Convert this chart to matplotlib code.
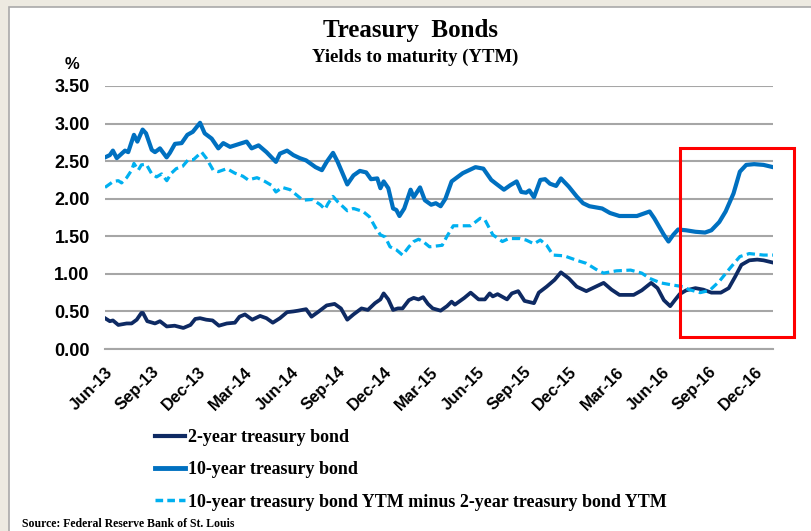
import numpy as np
import matplotlib
matplotlib.use("Agg")
import matplotlib.pyplot as plt
from matplotlib.patches import Rectangle
from matplotlib.lines import Line2D

# months counted from Jun-2013
tick_labels = ["Jun-13", "Sep-13", "Dec-13", "Mar-14", "Jun-14", "Sep-14", "Dec-14",
               "Mar-15", "Jun-15", "Sep-15", "Dec-15", "Mar-16", "Jun-16", "Sep-16", "Dec-16"]

ten_x = [0, 0.31, 0.51, 0.76, 1.29, 1.50, 1.87, 2.09, 2.43, 2.65, 3.02, 3.23, 3.55, 3.98, 4.19,
         4.52, 4.95, 5.32, 5.67, 6.14, 6.44, 6.89, 7.32, 7.64, 8.08, 8.69, 9.15, 9.47, 9.92, 10.43,
         11.04, 11.30, 11.76, 12.17, 12.58, 12.99, 13.60, 14.01, 14.32, 14.73, 15.03, 15.65, 16.05,
         16.46, 16.87, 17.18, 17.59, 17.79, 18.00, 18.30, 18.61, 18.82, 19.02, 19.33, 19.74, 19.94,
         20.35, 20.66, 21.07, 21.37, 21.68, 21.99, 22.39, 23.11, 23.93, 24.44, 24.95, 25.26, 25.77,
         26.18, 26.59, 26.89, 27.20, 27.41, 27.71, 28.12, 28.43, 28.74, 29.14, 29.45, 29.96, 30.47,
         30.88, 31.29, 32.11, 32.62, 33.23, 34.36, 34.77, 35.18, 35.48, 36.10, 36.40, 36.71, 37.02,
         37.53, 38.14, 38.76, 39.17, 39.68, 40.09, 40.60, 41.01, 41.42, 41.93, 42.54, 43.15]
ten_y = [2.55, 2.58, 2.64, 2.54, 2.64, 2.62, 2.85, 2.76, 2.92, 2.87, 2.65, 2.62, 2.67, 2.55, 2.61,
         2.73, 2.74, 2.85, 2.89, 3.01, 2.87, 2.80, 2.67, 2.74, 2.69, 2.73, 2.76, 2.67, 2.71, 2.62,
         2.49, 2.60, 2.64, 2.58, 2.54, 2.51, 2.42, 2.38, 2.49, 2.61, 2.49, 2.19, 2.31,
         2.37, 2.35, 2.26, 2.27, 2.14, 2.23, 2.14, 1.87, 1.85, 1.77, 1.87, 2.12, 2.02,
         2.15, 1.98, 1.92, 1.94, 1.90, 2.00, 2.23, 2.34, 2.42, 2.40, 2.25, 2.20, 2.12,
         2.18, 2.23, 2.09, 2.08, 2.11, 2.02, 2.25, 2.26, 2.20, 2.17, 2.27, 2.16, 2.03,
         1.94, 1.90, 1.87, 1.81, 1.77, 1.77, 1.80, 1.83, 1.74, 1.52, 1.43, 1.52, 1.59,
         1.58, 1.56, 1.55, 1.58, 1.69, 1.83, 2.07, 2.36, 2.45, 2.46, 2.45, 2.42]

two_x = [0, 0.31, 0.51, 0.86, 1.40, 1.72, 2.05, 2.35, 2.45, 2.73, 3.23, 3.55, 3.99, 4.50, 5.06,
         5.52, 5.83, 6.14, 6.54, 6.95, 7.36, 7.87, 8.39, 8.69, 9.04, 9.51, 10.02, 10.43, 10.84,
         11.30, 11.76, 12.17, 12.48, 12.99, 13.34, 13.81, 14.32, 14.83, 15.24, 15.65, 16.05, 16.57,
         16.98, 17.44, 17.79, 18.00, 18.30, 18.61, 18.92, 19.22, 19.63, 19.94, 20.25, 20.55, 20.86,
         21.17, 21.68, 22.09, 22.39, 22.60, 23.21, 23.62, 24.13, 24.54, 24.85, 25.05, 25.36, 25.97,
         26.28, 26.69, 27.10, 27.71, 28.02, 28.53, 29.04, 29.45, 29.96, 30.47, 31.09, 31.60, 32.21,
         32.72, 33.23, 34.15, 34.67, 35.28, 35.69, 36.10, 36.51, 36.81, 37.12, 37.53, 38.14, 38.65,
         39.17, 39.78, 40.29, 40.70, 41.11, 41.62, 42.13, 42.54, 43.15]
two_y = [0.41, 0.37, 0.38, 0.32, 0.34, 0.34, 0.39, 0.48, 0.48, 0.37, 0.34, 0.37, 0.30, 0.31, 0.28,
         0.32, 0.40, 0.41, 0.39, 0.38, 0.31, 0.34, 0.35, 0.43, 0.46, 0.39, 0.44, 0.41, 0.35,
         0.41, 0.49, 0.50, 0.51, 0.53, 0.43, 0.50, 0.58, 0.60, 0.54, 0.39, 0.46, 0.54,
         0.52, 0.61, 0.66, 0.74, 0.66, 0.52, 0.54, 0.54, 0.65, 0.68, 0.66, 0.69, 0.60,
         0.54, 0.51, 0.57, 0.63, 0.59, 0.68, 0.75, 0.66, 0.66, 0.74, 0.70, 0.73, 0.66,
         0.74, 0.77, 0.64, 0.61, 0.75, 0.83, 0.92, 1.02, 0.94, 0.83, 0.77, 0.82, 0.88,
         0.79, 0.72, 0.72, 0.78, 0.88, 0.81, 0.65, 0.57, 0.65, 0.73, 0.78, 0.81, 0.79,
         0.75, 0.75, 0.81, 0.96, 1.12, 1.18, 1.19, 1.18, 1.15]

spread_x = [0, 0.54, 0.86, 1.07, 1.40, 1.72, 1.87, 2.15, 2.35, 2.66, 3.02, 3.33, 3.66, 3.99, 4.29,
            4.60, 5.01, 5.38, 5.71, 6.24, 6.54, 6.99, 7.32, 7.87, 8.39, 8.90, 9.25, 9.82, 10.33,
            10.74, 11.04, 11.45, 11.96, 12.37, 12.78, 13.40, 13.91, 14.21, 14.42, 14.73, 15.03,
            15.65, 16.05, 16.67, 17.08, 17.49, 17.79, 18.10, 18.41, 18.82, 19.22, 19.63, 19.94,
            20.25, 20.55, 20.96, 21.78, 22.09, 22.50, 23.62, 24.24, 24.54, 25.05, 25.67, 26.08,
            26.79, 27.20, 27.71, 28.12, 28.53, 28.94, 29.66, 30.47, 31.09, 31.80, 32.21, 33.03,
            33.95, 34.67, 35.18, 35.89, 36.71, 37.32, 37.73, 38.45, 39.06, 39.68, 40.39, 41.01,
            41.62, 42.54, 43.15]
spread_y = [2.15, 2.23, 2.24, 2.21, 2.28, 2.38, 2.47, 2.38, 2.45, 2.46, 2.33, 2.29, 2.33, 2.24, 2.34,
            2.40, 2.43, 2.52, 2.52, 2.62, 2.54, 2.38, 2.36, 2.40, 2.34, 2.30, 2.25, 2.28, 2.23,
            2.18, 2.09, 2.15, 2.12, 2.05, 1.98, 1.99, 1.92, 1.86, 1.94, 2.03, 1.96,
            1.84, 1.87, 1.83, 1.76, 1.61, 1.52, 1.49, 1.36, 1.32, 1.25, 1.36, 1.43,
            1.46, 1.43, 1.36, 1.38, 1.50, 1.64, 1.64, 1.74, 1.72, 1.52, 1.43, 1.47,
            1.47, 1.45, 1.40, 1.45, 1.38, 1.25, 1.24, 1.18, 1.14, 1.05, 1.01, 1.04,
            1.05, 1.01, 0.94, 0.88, 0.85, 0.83, 0.79, 0.75, 0.78, 0.90, 1.08, 1.23,
            1.27, 1.25, 1.25]

NAVY = "#0E2A63"
BLUE = "#0070C0"
CYAN = "#00B0F0"
GRID = "#A6A6A6"
SANS = "Liberation Sans"
SERIF = "Liberation Serif"

W, H = 811, 531
fig = plt.figure(figsize=(W / 100, H / 100), dpi=100, facecolor="#EDEAE1")

# white sheet with a thin grey edge on the left and top
fig.patches.append(Rectangle((9 / W, -0.01), 1.0, 1 - 7 / H + 0.01, transform=fig.transFigure,
                             facecolor="white", edgecolor="#A9A9A9", lw=1.2, zorder=-10))

ax = fig.add_axes([105 / W, 1 - 349 / H, (773 - 105) / W, (349 - 86) / H])
ax.set_zorder(2)
ax.set_facecolor("white")
ax.set_xlim(0, 43.15)
ax.set_ylim(0, 3.5)

ax.plot(two_x, two_y, color=NAVY, lw=2.7, solid_joinstyle="round", zorder=3)
ax.plot(ten_x, ten_y, color=BLUE, lw=3.0, solid_joinstyle="round", zorder=3)
ax.plot(spread_x, spread_y, color=CYAN, lw=2.3, dashes=(2.6, 1.4), zorder=4)

ax.set_yticks(np.arange(0, 3.51, 0.5))
ax.set_yticklabels([f"{v:.2f}" for v in np.arange(0, 3.51, 0.5)])
ax.yaxis.grid(True, color=GRID, lw=1.5)
ax.set_axisbelow(True)
for s in ["top", "right", "left"]:
    ax.spines[s].set_visible(False)
ax.spines["bottom"].set_color(GRID)
ax.spines["bottom"].set_linewidth(1.5)

ax.set_xticks(np.arange(0, 43, 3))
ax.set_xticklabels(tick_labels, rotation=45, ha="right", va="top", rotation_mode="anchor")
ax.tick_params(axis="x", length=0, pad=11)
ax.tick_params(axis="y", length=0, pad=11)
for lab in ax.get_xticklabels() + ax.get_yticklabels():
    lab.set_fontfamily(SANS)
    lab.set_fontweight("bold")
    lab.set_fontsize(12)
for lab in ax.get_yticklabels():
    lab.set_fontsize(13)

# highlight of the late-2016 move
ax.add_patch(Rectangle((37.14, 0.16), 7.36, 2.52, fill=False, edgecolor="#FF0000", lw=2.2,
                       clip_on=False, zorder=5))

fig.text(411 / W, 1 - 30 / H, "Treasury  Bonds", ha="center", va="center",
         fontsize=18, fontweight="bold", family=SERIF)
fig.text(415 / W, 1 - 57 / H, "Yields to maturity (YTM)", ha="center", va="center",
         fontsize=13.5, fontweight="bold", family=SERIF)
fig.text(72 / W, 1 - 65 / H, "%", ha="center", va="center",
         fontsize=12, fontweight="bold", family=SANS)

handles = [Line2D([], [], color=NAVY, lw=3.0),
           Line2D([], [], color=BLUE, lw=3.5),
           Line2D([], [], color=CYAN, lw=2.5, dashes=(2.2, 1.2))]
labels = ["2-year treasury bond", "10-year treasury bond",
          "10-year treasury bond YTM minus 2-year treasury bond YTM"]
fig.legend(handles, labels, loc="upper left", bbox_to_anchor=(155 / W, 1 - 429 / H),
           frameon=False, borderpad=0, borderaxespad=0, handlelength=1.65,
           handletextpad=0.15, labelspacing=0.85,
           prop={"family": SERIF, "weight": "bold", "size": 13})

fig.text(22 / W, 1 - 524 / H, "Source: Federal Reserve Bank of St. Louis", ha="left",
         va="center", fontsize=8.5, fontweight="bold", family=SERIF)

fig.savefig("out.png", dpi=100, facecolor=fig.get_facecolor())
